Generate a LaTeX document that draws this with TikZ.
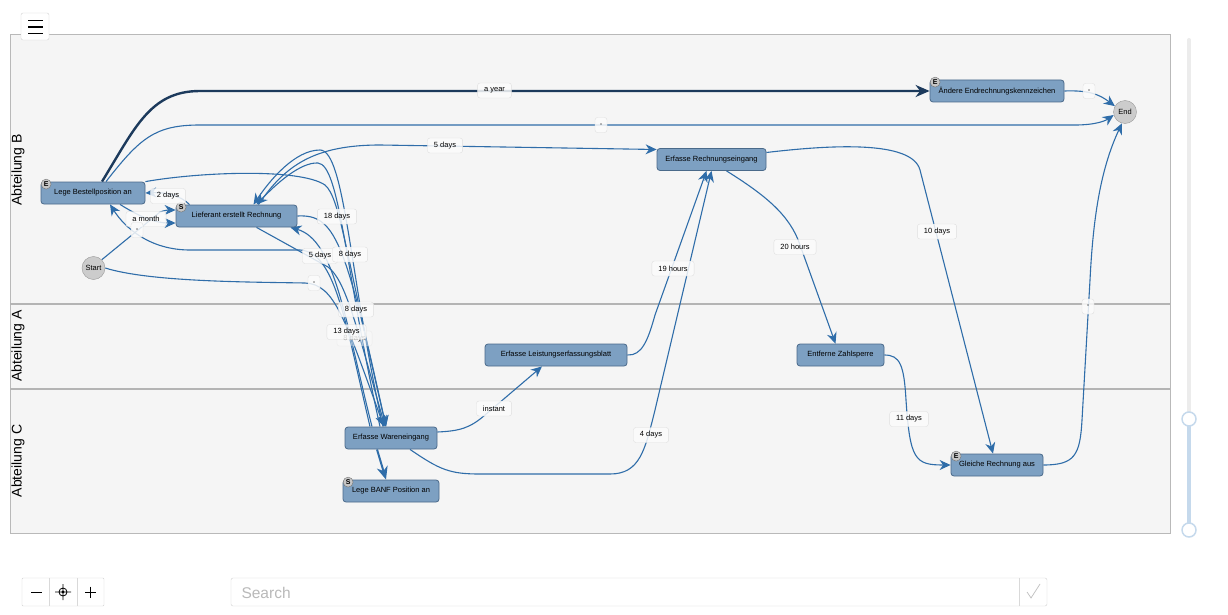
\documentclass[tikz,border=0pt]{standalone}
\usepackage{fontspec}
\setmainfont{Liberation Sans}
\usetikzlibrary{arrows.meta}
\definecolor{actfill}{HTML}{7DA0C2}
\definecolor{actline}{HTML}{4A6A8A}
\definecolor{flowc}{HTML}{2F6DA9}
\definecolor{yearc}{HTML}{1C3A5C}
\definecolor{lanebg}{HTML}{F5F5F5}
\definecolor{laneline}{HTML}{B4B4B4}
\definecolor{slidec}{HTML}{C5D9EC}
\pgfdeclarelayer{lanes}
\pgfdeclarelayer{flows}
\pgfsetlayers{lanes,flows,main}
\begin{document}
\begin{tikzpicture}[x=1pt, y=-1pt,
    act/.style={draw=actline, line width=0.8pt, fill=actfill, rounded corners=3pt, minimum height=22pt, inner sep=0pt, font=\fontsize{7.5}{9}\selectfont},
    ev/.style={circle, draw=gray!80, fill=gray!40, minimum size=23pt, inner sep=0pt, font=\fontsize{7.5}{9}\selectfont},
    badge/.style={circle, draw=gray!90!black, fill=gray!45, minimum size=10pt, inner sep=0pt, font=\fontsize{7}{8}\selectfont\bfseries},
    dur/.style={draw=gray!25, fill=white!97!gray, fill opacity=0.85, text opacity=1, rounded corners=2.5pt, minimum height=15pt, inner xsep=6.5pt, inner ysep=0pt, font=\fontsize{7.5}{9}\selectfont},
    flow/.style={draw=flowc, line width=1.1pt, -{Stealth[length=11pt, width=10pt, inset=3.5pt]}},
    lane/.style={rotate=90, font=\fontsize{14}{16}\selectfont},
    ui/.style={draw=gray!35, fill=white, rounded corners=2pt, inner sep=0pt}]
\useasboundingbox (0,0) rectangle (1228,615);

% swim lanes
\begin{pgfonlayer}{lanes}
\fill[white] (0,0) rectangle (1228,615);
\draw[gray!55, fill=lanebg] (10,34) rectangle (1170,533);
\draw[laneline, line width=1.2pt] (10,304) -- (1170,304);
\draw[laneline, line width=1.2pt] (10,389) -- (1170,389);
\end{pgfonlayer}
\node[lane] (laneB) at (18,170) {Abteilung B};
\node[lane] (laneA) at (18,346) {Abteilung A};
\node[lane] (laneC) at (18,461) {Abteilung C};

% activities
\node[act, minimum width=104pt] (bestell) at (93,193) {Lege Bestellposition an};
\node[act, minimum width=121pt] (liefer) at (236.5,216) {Lieferant erstellt Rechnung};
\node[act, minimum width=109pt] (reing) at (711.5,159.5) {Erfasse Rechnungseingang};
\node[act, minimum width=142pt] (leist) at (556,355) {Erfasse Leistungserfassungsblatt};
\node[act, minimum width=92pt] (waren) at (391,438) {Erfasse Wareneingang};
\node[act, minimum width=96pt] (banf) at (391,491) {Lege BANF Position an};
\node[act, minimum width=134pt] (andere) at (997,91) {Ändere Endrechnungskennzeichen};
\node[act, minimum width=87pt] (zahl) at (840.5,355) {Entferne Zahlsperre};
\node[act, minimum width=92pt] (gleich) at (997,465) {Gleiche Rechnung aus};
\node[ev] (start) at (93.5,268) {Start};
\node[ev] (end) at (1125,112) {End};

\node[badge] (bdgbestell) at ([shift={(5.5,2.5)}]bestell.north west) {E};
\node[badge] (bdgliefer) at ([shift={(5.5,2.5)}]liefer.north west) {S};
\node[badge] (bdgandere) at ([shift={(5.5,2.5)}]andere.north west) {E};
\node[badge] (bdggleich) at ([shift={(5.5,2.5)}]gleich.north west) {E};
\node[badge] (bdgbanf) at ([shift={(5.5,2.5)}]banf.north west) {S};

% flows
\begin{pgfonlayer}{flows}
\draw[flow, draw=yearc, line width=2.4pt, -{Stealth[length=14pt, width=12pt, inset=4.5pt]}] ([xshift=9pt]bestell.north) .. controls (135,128) and (150,91) .. (200,91) -- (andere.west);
\draw[flow] ([xshift=13pt]bestell.north) .. controls (140,138) and (155,125) .. (200,125) -- (1075,125) .. controls (1095,125) and (1105,121) .. (end.195);
\draw[flow] ([xshift=22pt]liefer.north) .. controls (285,165) and (315,145) .. (380,145) -- ([yshift=10pt]reing.west);
\draw[flow] ([xshift=14pt]liefer.north west) .. controls (180,195) and (165,192) .. (bestell.east);
\draw[flow] ([xshift=27pt]bestell.south) .. controls (140,217) and (155,223) .. ([yshift=-7pt]liefer.west);
\draw[flow] (start.north east) -- (160,212) .. controls (165,210) and (170,210) .. ([yshift=6pt]liefer.west);
% bundle round Erfasse Wareneingang
\draw[flow] (bestell.north east) .. controls (200,172) and (300,168) .. (325,185) .. controls (340,198) and (345,250) .. ([xshift=-5pt]waren.north);
\draw[flow] (liefer.east) .. controls (335,214) and (345,240) .. ([xshift=-5pt]waren.north);
\draw[flow] ([xshift=20pt]liefer.south) -- (328,267) .. controls (345,280) and (355,320) .. ([xshift=-6pt]waren.north);
\draw[flow] (start.east) .. controls (150,282) and (250,282) .. (305,283) .. controls (335,284) and (345,320) .. ([xshift=-7pt]waren.north);
\draw[flow] ([xshift=-19pt]waren.north) .. controls (345,320) and (335,240) .. ([xshift=-7pt]liefer.south east);
\draw[flow] ([xshift=-21pt]waren.north) .. controls (345,320) and (335,252) .. (300,250) -- (190,250) .. controls (150,250) and (125,228) .. ([xshift=17pt]bestell.south);
\draw[flow] ([xshift=-8pt]waren.north) .. controls (350,280) and (345,150) .. (320,150) .. controls (295,150) and (270,180) .. ([xshift=17pt]liefer.north);
\draw[flow] ([xshift=-11pt]waren.north) .. controls (345,270) and (340,165) .. (318,163) .. controls (300,162) and (275,185) .. ([xshift=20pt]liefer.north);
\draw[flow, line width=2pt, -{Stealth[length=13pt, width=11pt, inset=4pt]}] ([xshift=-14pt]waren.south) -- ([xshift=-5pt]banf.north);
% right part
\draw[flow] ([yshift=6pt]waren.east) .. controls (460,431) and (470,428) .. (485,415) -- ([xshift=-14pt]leist.south);
\draw[flow] ([xshift=19pt]waren.south) .. controls (440,470) and (450,474) .. (480,474) -- (610,474) .. controls (640,474) and (645,450) .. (655,410) -- (reing.south);
\draw[flow] (leist.east) .. controls (642,356) and (648,340) .. (655,315) -- ([xshift=-5pt]reing.south);
\draw[flow] ([xshift=15pt]reing.south) .. controls (765,195) and (790,215) .. (800,245) -- ([xshift=-5pt]zahl.north);
\draw[flow] ([yshift=7pt]reing.east) .. controls (830,145) and (912,140) .. (920,170) -- ([xshift=-4pt]gleich.north);
\draw[flow] (zahl.east) .. controls (900,355) and (904,365) .. (906,400) .. controls (910,460) and (915,465) .. (gleich.west);
\draw[flow] (gleich.east) .. controls (1075,465) and (1080,455) .. (1082,420) -- (1090,280) .. controls (1093,220) and (1100,170) .. (end.255);
\draw[flow] (andere.east) .. controls (1090,90) and (1100,95) .. (end.150);
\end{pgfonlayer}

% durations
\node[dur] (lyear) at (494.5,90.5) {a year};
\node[dur, minimum width=12pt, inner xsep=2pt] (lend) at (601,125) {-};
\node[dur] (l5dtop) at (445,145.5) {5 days};
\node[dur] (l2d) at (168,196) {2 days};
\node[dur] (lmonth) at (146,219) {a month};
\node[dur, minimum width=12pt, inner xsep=2pt] (lstart) at (137,230) {-};
\node[dur] (l18d) at (337,216.5) {18 days};
\node[dur] (l5d) at (320,256) {5 days};
\node[dur] (l8d) at (350,254.5) {8 days};
\node[dur, minimum width=12pt, inner xsep=2pt] (lstartw) at (314,283) {-};
\node[dur] (l8dmid) at (356,309.5) {8 days};
\node[dur, opacity=0.4] (l8dfade) at (354.5,338.5) {8 days};
\node[dur] (l13d) at (346.5,332) {13 days};
\node[dur] (l19h) at (673,268.5) {19 hours};
\node[dur] (l20h) at (795,247) {20 hours};
\node[dur] (l10d) at (937,231.5) {10 days};
\node[dur] (l11d) at (909,419) {11 days};
\node[dur, minimum width=12pt, inner xsep=2pt] (lgleich) at (1088,306.5) {-};
\node[dur, minimum width=12pt, inner xsep=2pt] (landere) at (1089,91) {-};
\node[dur] (linst) at (494,408.5) {instant};
\node[dur] (l4d) at (651,435) {4 days};

% controls
\node[ui, minimum width=28pt, minimum height=27pt] (menu) at (35,26.5) {};
\foreach \yy in {20.5,27,33.5}
  \draw[line width=1.1pt] (28,\yy) -- (43,\yy);
\draw[gray!15, line width=4pt, line cap=round] (1189,40) -- (1189,419);
\draw[slidec, line width=4pt] (1189,419) -- (1189,530);
\node[circle, draw=slidec, line width=1.5pt, fill=white, minimum size=14pt] (knobtop) at (1189,419) {};
\node[circle, draw=slidec, line width=1.5pt, fill=white, minimum size=14pt] (knobbot) at (1189,530) {};
\node[ui, rounded corners=1pt, minimum width=82pt, minimum height=28pt] (zoomctl) at (63,592) {};
\draw[gray!30] (49,578) -- (49,606) (77,578) -- (77,606);
\draw[line width=0.8pt] (31,592) -- (42,592) (85,592) -- (96,592) (90.5,586.5) -- (90.5,597.5);
\draw[line width=0.8pt] (63,592) circle (4pt) (63,584) -- (63,600) (55,592) -- (71,592);
\fill (63,592) circle (1.6pt);
\node[ui, minimum width=816pt, minimum height=28pt] (search) at (639,592) {};
\node[anchor=west, text=gray!55, font=\fontsize{15.5}{18}\selectfont] (searchtxt) at (238,592.5) {Search};
\draw[gray!30] (1019,578) -- (1019,606);
\draw[gray!50, line width=0.7pt] (1027,592) -- (1031,598) -- (1040,584);
\end{tikzpicture}
\end{document}
